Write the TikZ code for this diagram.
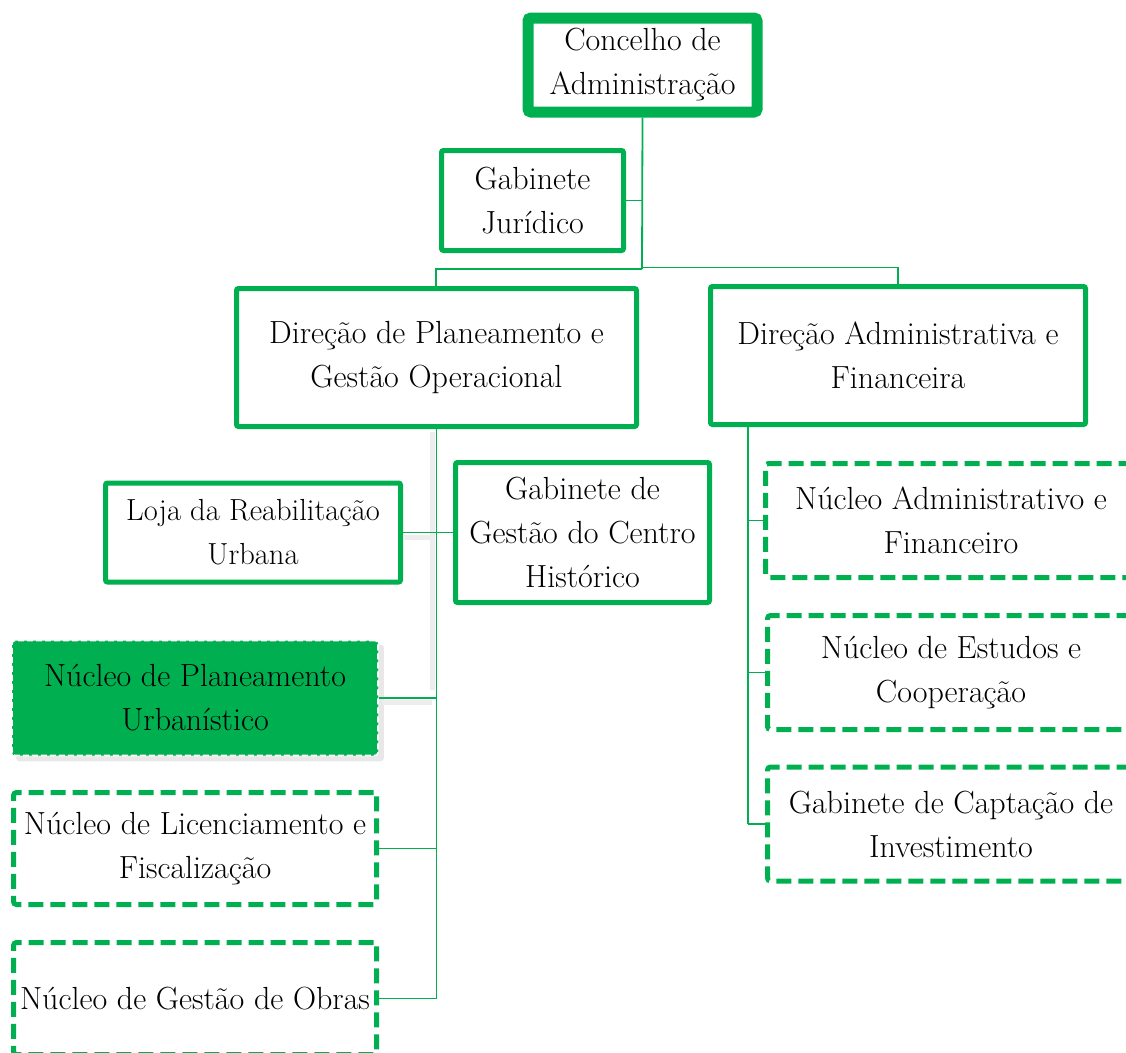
\documentclass[tikz,border=0pt]{standalone}
\usepackage{fontspec}
\usetikzlibrary{backgrounds}
\definecolor{og}{HTML}{00B050}
\begin{document}
\begin{tikzpicture}[x=1pt,y=-1pt,
  box/.style={draw=og, line width=5pt, rounded corners=2pt, align=center, inner sep=0pt, fill=white,
    font=\fontsize{32}{44}\selectfont},
  dbox/.style={box, dash pattern=on 15pt off 7pt, rounded corners=3pt},
  conn/.style={draw=og, line width=1.8pt},
  shad/.style={draw=black!7, line width=5pt}]
\clip (0,0) rectangle (1126,1052);

% faint shadows along the left trunk
\draw[shad] (432,432) -- (432,690);
\draw[shad] (404,537) -- (432,537);
\draw[shad] (382,702) -- (432,702);

\coordinate (cA) at (642,269);
\coordinate (cL) at (436,269);
\coordinate (cR) at (898,267.5);
\coordinate (rT) at (748,426);

\node[box, line width=11pt, rounded corners=3pt, minimum width=229pt, minimum height=94pt] (conc) at (642.5,65) {Concelho de\\Administração};
\node[box, minimum width=182pt, minimum height=100pt] (jur) at (532.5,200.5) {Gabinete\\Jurídico};
\node[box, minimum width=400pt, minimum height=138pt] (dirP) at (436.5,357.5) {Direção de Planeamento e\\Gestão Operacional};
\node[box, minimum width=375pt, minimum height=138pt] (dirA) at (898,355.5) {Direção Administrativa e\\Financeira};
\node[box, minimum width=295pt, minimum height=99pt, font=\fontsize{30.5}{44}\selectfont] (loja) at (253,532.5) {Loja da Reabilitação\\Urbana};
\node[box, minimum width=254pt, minimum height=140pt] (ggch) at (582.5,532.5) {Gabinete de\\Gestão do Centro\\Histórico};
\node[box, fill=og, draw=white, line width=1.6pt, dash pattern=on 6pt off 3pt, rounded corners=3pt,
  minimum width=366pt, minimum height=115pt] (npu) at (195,698) {Núcleo de Planeamento\\Urbanístico};
\node[dbox, minimum width=363pt, minimum height=112pt] (nlf) at (195,848.5) {Núcleo de Licenciamento e\\Fiscalização};
\node[dbox, minimum width=363pt, minimum height=112pt] (ngo) at (195,998.5) {Núcleo de Gestão de Obras};
\node[dbox, minimum width=371pt, minimum height=114pt] (naf) at (951,520.5) {Núcleo Administrativo e\\Financeiro};
\node[dbox, minimum width=367pt, minimum height=114pt] (nec) at (951,672.5) {Núcleo de Estudos e\\Cooperação};
\node[dbox, minimum width=367pt, minimum height=114pt] (gci) at (951,824) {Gabinete de Captação de\\Investimento};

\begin{pgfonlayer}{background}
  \fill[black!9, rounded corners=3pt] ([xshift=5pt,yshift=-5pt]npu.south west) rectangle ([xshift=5pt,yshift=-5pt]npu.north east);
\end{pgfonlayer}

\draw[conn] (conc.south) -- (cA);
\draw[conn] (cA) -- (cL) -- (dirP.north -| cL);
\draw[conn] (cA |- cR) -- (cR) -- (dirA.north);
\draw[conn] (jur.east) -- (jur.east -| cA);

\draw[conn] (dirP.south) -- (dirP.south |- ngo.east);
\draw[conn] (loja.east) -- (ggch.west);
\draw[conn] (npu.east) -- (npu.east -| dirP.south);
\draw[conn] (nlf.east) -- (nlf.east -| dirP.south);
\draw[conn] (ngo.east) -- (ngo.east -| dirP.south);

\draw[conn] (rT) -- (rT |- gci.west);
\draw[conn] (rT |- naf.west) -- (naf.west);
\draw[conn] (rT |- nec.west) -- (nec.west);
\draw[conn] (rT |- gci.west) -- (gci.west);
\end{tikzpicture}
\end{document}
